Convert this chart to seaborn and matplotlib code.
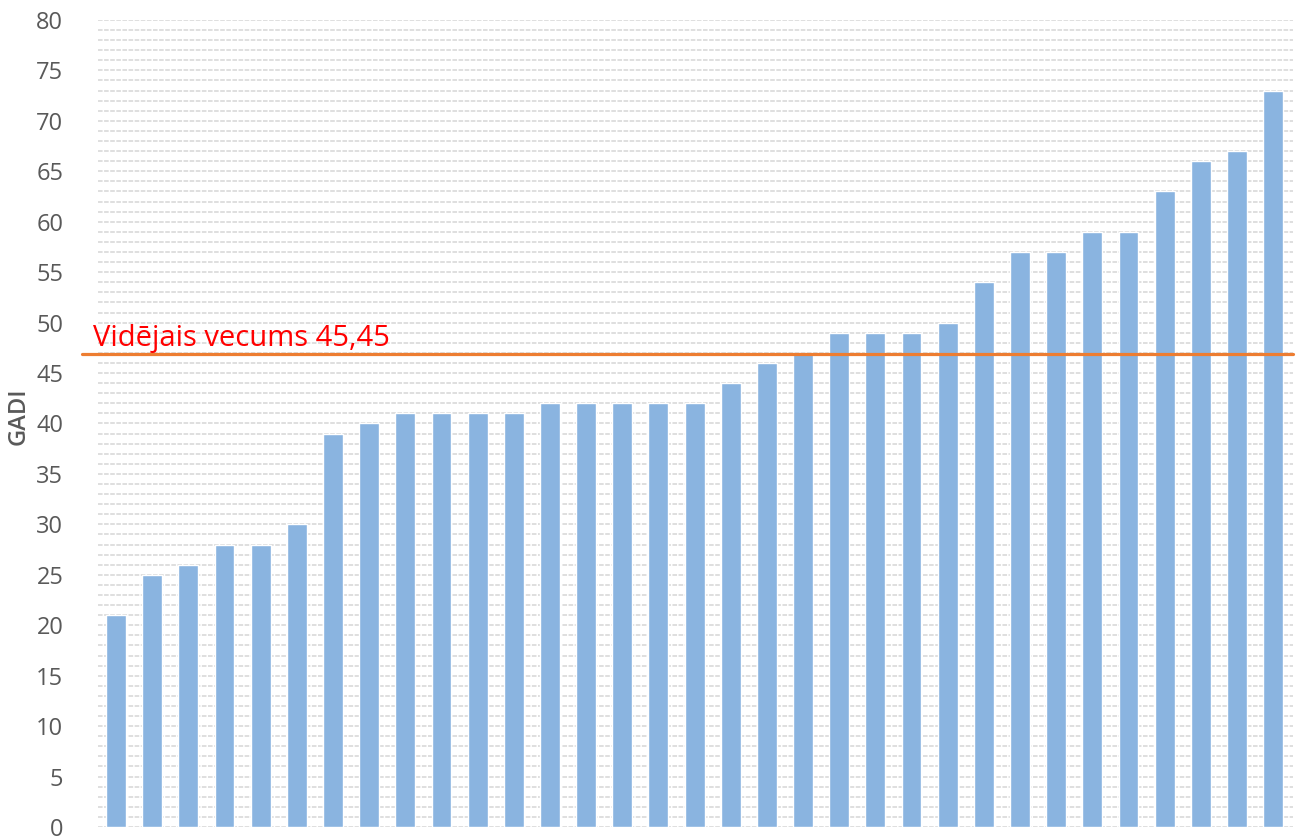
import numpy as np
import pandas as pd
import matplotlib
matplotlib.use("Agg")
import matplotlib.pyplot as plt
import seaborn as sns

# data
ages = [21, 25, 26, 28, 28, 30, 39, 40, 41, 41, 41, 41, 42, 42, 42, 42, 42,
        44, 46, 47, 49, 49, 49, 50, 54, 57, 57, 59, 59, 63, 66, 67, 73]
person = list(range(1, len(ages) + 1))
mean_line_y = 46.9
mean_label = "Vidējais vecums 45,45"
y_label = "GADI"
y_ticks = list(range(0, 81, 5))

BAR_COLOR = "#8AB4E0"
LINE_COLOR = "#ED7D31"
TEXT_GRAY = "#595959"

sns.set_theme(style="white")
plt.rcParams["font.family"] = ["Open Sans", "DejaVu Sans"]

df = pd.DataFrame({"person": person, "age": ages})

fig = plt.figure(figsize=(13.03, 8.39), dpi=100)
ax = fig.add_axes([0.0752, 0.0143, 0.9171, 0.9619])

# dense dashed grid, one line per year
for yv in range(0, 81):
    ax.axhline(yv, color="#D6D6D6", lw=1.1, ls=(0, (3, 1)), zorder=0)

sns.barplot(data=df, x="person", y="age", color=BAR_COLOR, saturation=1,
            width=0.55, ax=ax, zorder=2)

ax.set_xlim(-0.5, len(ages) - 0.45)
ax.set_ylim(0, 80)
ax.set_yticks(y_ticks)
ax.set_yticklabels([str(t) for t in y_ticks], fontsize=17, color=TEXT_GRAY)
ax.tick_params(axis="y", length=0, pad=25)
ax.set_xticks([])
ax.set_xlabel("")
ax.set_ylabel("")
for s in ax.spines.values():
    s.set_visible(False)

fig.text(19 / 1303, 1 - 416 / 839, y_label, rotation=90, fontsize=17,
         fontweight="semibold", color=TEXT_GRAY, ha="center", va="center")

# average line, running slightly past the left edge
ax.axhline(mean_line_y, xmin=-0.013, xmax=1.0, color=LINE_COLOR, lw=2.3,
           clip_on=False, zorder=3)
ax.text(-0.64, mean_line_y + 0.8, mean_label, color="#FF0000", fontsize=21,
        va="baseline", ha="left", zorder=4)

plt.savefig("out.png", dpi=100)
plt.close()
